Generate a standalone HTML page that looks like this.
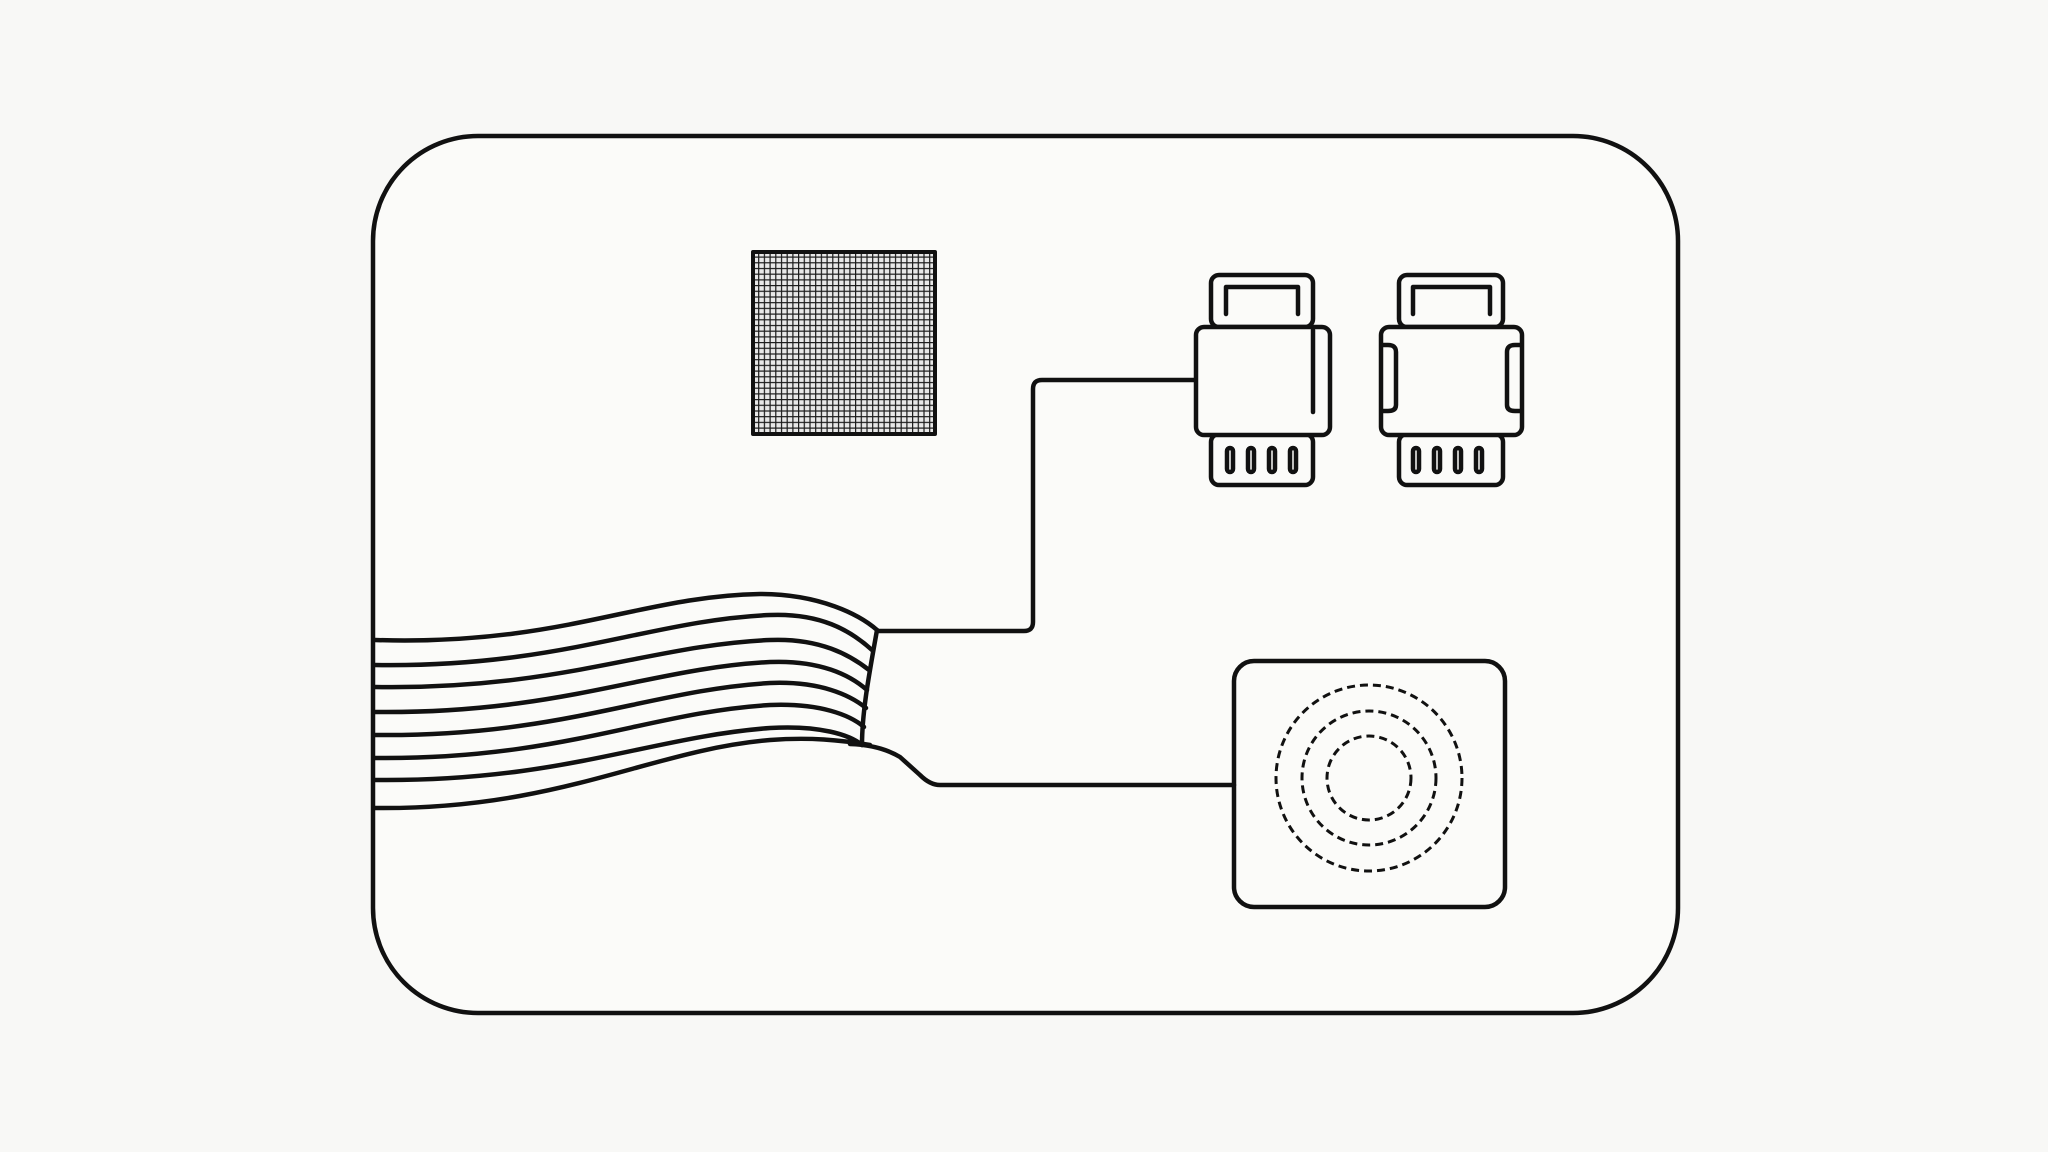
<!DOCTYPE html>
<html><head><style>html,body{margin:0;padding:0;background:#f8f8f6;}svg{display:block}</style></head>
<body>
<svg width="2048" height="1152" viewBox="0 0 2048 1152" xmlns="http://www.w3.org/2000/svg">
<defs>
<pattern id="g" width="5.7" height="5.7" patternUnits="userSpaceOnUse">
<rect width="5.7" height="5.7" fill="#e8e8e8"/>
<path d="M0 0H5.7M0 0V5.7" stroke="#1a1a1a" stroke-width="2.4"/>
</pattern>
</defs>
<rect x="0" y="0" width="2048" height="1152" fill="#f8f8f6"/>
<g fill="none" stroke="#111" stroke-width="4.5" stroke-linecap="round" stroke-linejoin="round">
<rect x="373" y="136" width="1305" height="877" rx="105" fill="#fbfbf9"/>
<rect x="753" y="252" width="182" height="182" fill="url(#g)" stroke="#111" stroke-width="4"/>
<!-- wires -->
<path d="M1195 380H1042Q1033 380 1033 389V622Q1033 631 1024 631H877"/>
<path d="M1234 785H940Q930 785 920 775L900 757Q880 745 850 744"/>
<!-- cable -->
<path d="M375 640C560 646 640 596 760 594C820 594 860 615 877 630"/>
<path d="M375 665C560 668 650 620 770 615C820 613 850 630 872 650"/>
<path d="M375 687C560 690 650 645 770 640C820 638 850 655 869 670"/>
<path d="M375 712C560 714 650 668 770 662C820 660 850 675 867 690"/>
<path d="M375 735C560 737 650 690 770 683C820 681 850 695 866 708"/>
<path d="M375 758C560 760 650 712 770 705C820 703 850 715 864 727"/>
<path d="M375 780C560 782 650 737 770 728C820 725 850 735 862 745"/>
<path d="M375 808C560 810 650 750 770 740C810 737 840 740 870 745"/>
<path d="M877 630C870 670 862 710 862 745"/>
<!-- connector 1 -->
<rect x="1211" y="275" width="102" height="52" rx="8"/>
<path d="M1226 314V287H1298V314"/>
<rect x="1211" y="434" width="102" height="51" rx="8"/>
<rect x="1196" y="327" width="134" height="108" rx="8" fill="#fbfbf9"/>
<path d="M1313 330V412"/>
<rect x="1227" y="448" width="6" height="24" rx="3"/>
<rect x="1248" y="448" width="6" height="24" rx="3"/>
<rect x="1269" y="448" width="6" height="24" rx="3"/>
<rect x="1290" y="448" width="6" height="24" rx="3"/>
<!-- connector 2 -->
<rect x="1399" y="275" width="104" height="52" rx="8"/>
<path d="M1413 314V287H1490V314"/>
<rect x="1399" y="434" width="104" height="51" rx="8"/>
<rect x="1381" y="327" width="141" height="108" rx="8" fill="#fbfbf9"/>
<path d="M1383 345H1388Q1396 345 1396 352V405Q1396 411 1388 411H1383"/>
<path d="M1520 345H1515Q1507 345 1507 352V405Q1507 411 1515 411H1520"/>
<rect x="1413" y="448" width="6" height="24" rx="3"/>
<rect x="1434" y="448" width="6" height="24" rx="3"/>
<rect x="1455" y="448" width="6" height="24" rx="3"/>
<rect x="1476" y="448" width="6" height="24" rx="3"/>
<!-- sensor -->
<rect x="1234" y="661" width="271" height="246" rx="20"/>
<circle cx="1369" cy="778" r="93" stroke-width="3" stroke-dasharray="8 5" stroke-linecap="butt"/>
<circle cx="1369" cy="778" r="67" stroke-width="3" stroke-dasharray="8 5" stroke-linecap="butt"/>
<circle cx="1369" cy="778" r="42" stroke-width="3" stroke-dasharray="8 5" stroke-linecap="butt"/>
</g>
</svg>
</body></html>
